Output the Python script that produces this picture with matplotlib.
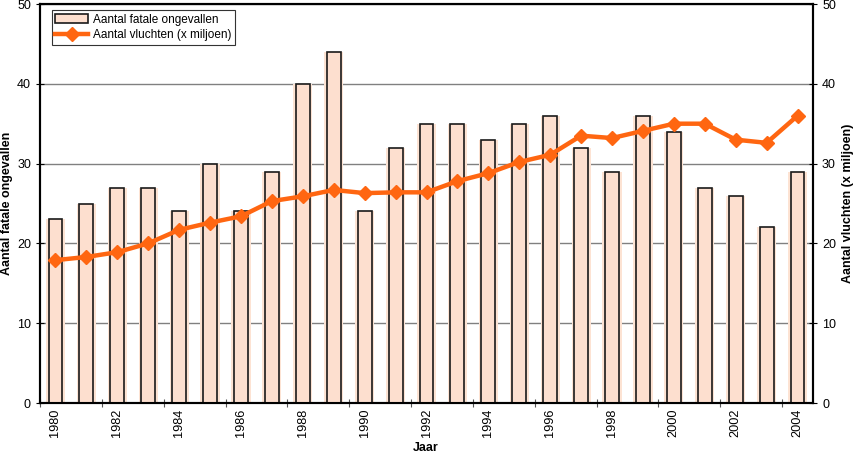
import matplotlib
matplotlib.use("Agg")
import matplotlib.pyplot as plt
import numpy as np

plt.rcParams['font.family'] = ['Liberation Sans', 'DejaVu Sans']

years = list(range(1980, 2005))
fatal_accidents = [23, 25, 27, 27, 24, 30, 24, 29, 40, 44, 24, 32, 35, 35, 33, 35, 36, 32, 29, 36, 34, 27, 26, 22, 29]
flights_millions = [17.9, 18.3, 18.9, 20.0, 21.7, 22.6, 23.4, 25.3, 25.9, 26.7, 26.3, 26.4, 26.4, 27.8, 28.8,
                    30.2, 31.1, 33.5, 33.2, 34.1, 35.0, 35.0, 33.0, 32.6, 36.0]
tick_years = [str(y) for y in years[::2]]

fig = plt.figure(figsize=(8.55, 4.54), dpi=100)
ax = fig.add_axes([40/855, 1-403/454, (813-40)/855, (403-4)/454])
x = np.arange(len(years))

ax.set_xlim(-0.5, len(years)-0.5)
ax.set_ylim(0, 50)
ax.set_yticks(range(0, 51, 10))
ax.yaxis.grid(True, color='#808080', linewidth=1)
ax.set_axisbelow(True)

# glow behind bars
ax.bar(x, fatal_accidents, width=0.62, color='#FDE3D3', edgecolor='none', zorder=2)
bars = ax.bar(x, fatal_accidents, width=0.45, color='#FDDFCF', edgecolor='#1a1a1a', linewidth=1.2,
              label='Aantal fatale ongevallen', zorder=3)

ax2 = ax.twinx()
ax2.set_ylim(0, 50)
ax2.set_yticks(range(0, 51, 10))
line, = ax2.plot(x, flights_millions, color='#FF6611', linewidth=3.2, marker='D', markersize=7,
                 label='Aantal vluchten (x miljoen)', zorder=5)

# x ticks: marks at category boundaries every 2, labels every 2 at categories
ax.set_xticks(np.arange(-0.5, len(years), 2))
ax.set_xticklabels([])
ax.set_xticks(x[::2], minor=True)
ax.set_xticklabels(tick_years, minor=True, rotation=90, fontsize=9.2)
ax.tick_params(axis='x', which='minor', length=0, pad=4)
ax.tick_params(axis='x', which='major', direction='inout', length=6, color='#555555')
ax.tick_params(axis='y', direction='inout', length=6, labelsize=9)
ax2.tick_params(axis='y', direction='inout', length=6, labelsize=9)

for a in (ax, ax2):
    for s in a.spines.values():
        s.set_linewidth(1.5)
        s.set_color('black')

fig.text(426/855, 1-448/454, 'Jaar', fontweight='bold', fontsize=9, ha='center', va='center')
ax.set_ylabel('Aantal fatale ongevallen', fontweight='bold', fontsize=9, labelpad=3)
ax2.set_ylabel('Aantal vluchten (x miljoen)', fontweight='bold', fontsize=9, rotation=90, labelpad=4)

leg = ax2.legend([bars, line], ['Aantal fatale ongevallen', 'Aantal vluchten (x miljoen)'],
                 loc='upper left', bbox_to_anchor=(0.015, 0.985), fontsize=8.5, frameon=True,
                 fancybox=False, edgecolor='#333333', framealpha=1, borderpad=0.3,
                 handlelength=2.8, handletextpad=0.4, labelspacing=0.3, borderaxespad=0)
leg.get_frame().set_linewidth(0.8)

fig.savefig('out.png', dpi=100)
